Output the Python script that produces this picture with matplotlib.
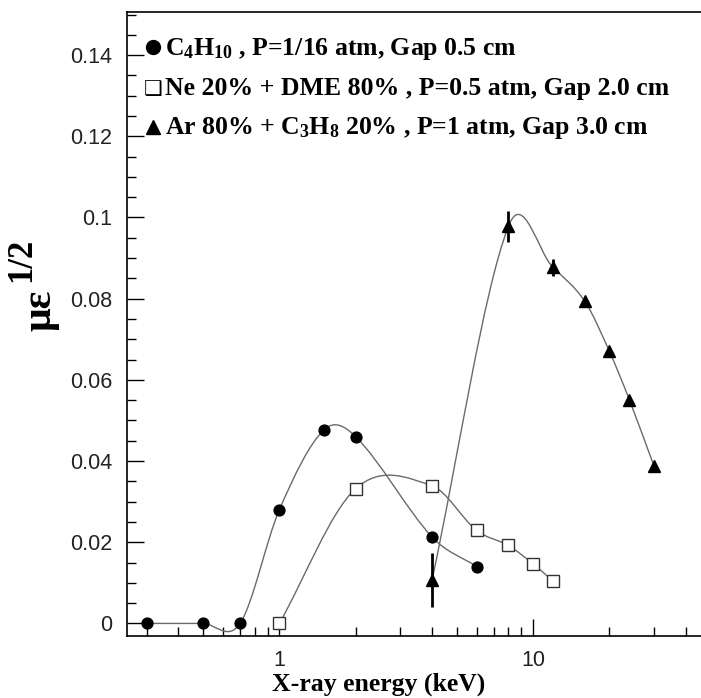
import numpy as np
import matplotlib
matplotlib.use('Agg')
import matplotlib.pyplot as plt
from matplotlib.path import Path
from matplotlib.patches import PathPatch
from matplotlib.ticker import MultipleLocator, FixedLocator, NullFormatter

plt.rcParams['mathtext.fontset'] = 'custom'
plt.rcParams['mathtext.rm'] = 'Liberation Serif:bold'
plt.rcParams['mathtext.it'] = 'Liberation Serif:bold'
plt.rcParams['mathtext.bf'] = 'Liberation Serif:bold'

# C4H10, P=1/16 atm, gap 0.5 cm
e_c4h10 = [0.3, 0.5, 0.7, 1.0, 1.5, 2.0, 4.0, 6.0]
m_c4h10 = [0.0, 0.0, 0.0, 0.028, 0.0477, 0.046, 0.0213, 0.014]

# Ne 20% + DME 80%, P=0.5 atm, gap 2.0 cm
e_nedme = [1.0, 2.0, 4.0, 6.0, 8.0, 10.0, 12.0]
m_nedme = [0.0, 0.0332, 0.0339, 0.0229, 0.0192, 0.0147, 0.0104]

# Ar 80% + C3H8 20%, P=1 atm, gap 3.0 cm
e_arc3h8 = [4.0, 8.0, 12.0, 16.0, 20.0, 24.0, 30.0]
m_arc3h8 = [0.0107, 0.0978, 0.0877, 0.0794, 0.0671, 0.0551, 0.0388]
err_arc3h8 = [0.0066, 0.0038, 0.0021, 0.0, 0.0, 0.0, 0.0]

yticks = [0, 0.02, 0.04, 0.06, 0.08, 0.1, 0.12, 0.14]
ytick_labels = ['0', '0.02', '0.04', '0.06', '0.08', '0.1', '0.12', '0.14']
xticks = [1, 10]
xtick_labels = ['1', '10']

LINE = '#6a6a6a'
SERIF = 'Liberation Serif'


def smooth_path(xs, ys):
    """Cardinal (Catmull-Rom) curve in log-x, built as cubic Bezier segments."""
    t = np.log10(xs)
    y = np.asarray(ys, float)
    n = len(t)
    m = np.empty(n)
    m[0] = (y[1] - y[0]) / (t[1] - t[0])
    m[-1] = (y[-1] - y[-2]) / (t[-1] - t[-2])
    m[1:-1] = (y[2:] - y[:-2]) / (t[2:] - t[:-2])
    verts = [(xs[0], y[0])]
    codes = [Path.MOVETO]
    for i in range(n - 1):
        h = t[i + 1] - t[i]
        c1 = (10 ** (t[i] + h / 3), y[i] + m[i] * h / 3)
        c2 = (10 ** (t[i + 1] - h / 3), y[i + 1] - m[i + 1] * h / 3)
        verts += [c1, c2, (xs[i + 1], y[i + 1])]
        codes += [Path.CURVE4] * 3
    return Path(verts, codes)


fig = plt.figure(figsize=(7.01, 6.98), dpi=100)
ax = fig.add_axes([0.1807, 0.0888, 0.8193, 0.8933])

for xs, ys in [(e_c4h10, m_c4h10), (e_nedme, m_nedme), (e_arc3h8, m_arc3h8)]:
    ax.add_patch(PathPatch(smooth_path(xs, ys), fc='none', ec=LINE, lw=1.0,
                           zorder=2))

ax.plot(e_c4h10, m_c4h10, 'o', ms=7.8, color='black', zorder=4)
ax.plot(e_nedme, m_nedme, 's', ms=8.5, mfc='white', mec='#333333', mew=1.0,
        zorder=4)
ax.errorbar(e_arc3h8, m_arc3h8, yerr=err_arc3h8, fmt='^', ms=8.5,
            color='black', ecolor='black', elinewidth=2.0, capsize=0,
            zorder=4)

ax.set_xscale('log')
ax.set_xlim(0.25, 46)
ax.set_ylim(-0.0031, 0.1505)

ax.set_yticks(yticks)
ax.set_yticklabels(ytick_labels)
ax.yaxis.set_minor_locator(MultipleLocator(0.005))
ax.set_xticks(xticks)
ax.set_xticklabels(xtick_labels)
ax.xaxis.set_minor_locator(FixedLocator(
    [0.3, 0.4, 0.5, 0.6, 0.7, 0.8, 0.9, 2, 3, 4, 5, 6, 7, 8, 9, 20, 30, 40]))
ax.xaxis.set_minor_formatter(NullFormatter())

ax.tick_params(which='major', direction='in', length=12, width=1.0,
               labelsize=15.5, colors='black')
ax.tick_params(which='minor', direction='in', length=6.5, width=1.0)
ax.tick_params(axis='y', which='major', pad=10.5)
ax.tick_params(axis='x', which='major', pad=10)
for lab in ax.get_xticklabels() + ax.get_yticklabels():
    lab.set_fontfamily('Liberation Sans')
    lab.set_color('#222222')

ax.spines['right'].set_visible(False)
for side in ['left', 'bottom', 'top']:
    ax.spines[side].set_linewidth(1.2)

# legend drawn as text rows
rows = [
    ('o', r'C$_{4}$H$_{10}$ , P=1/16 atm, Gap 0.5 cm'),
    ('sq', r'Ne 20% + DME 80% , P=0.5 atm, Gap 2.0 cm'),
    ('^', r'Ar 80% + C$_{3}$H$_{8}$ 20% , P=1 atm, Gap 3.0 cm'),
]
row_y = [0.932, 0.868, 0.805]
sym_x = 0.0458
for (mk, txt), yy in zip(rows, row_y):
    if mk == 'sq':
        ax.text(sym_x, yy, '\u2751', transform=ax.transAxes, ha='center',
                va='baseline', fontsize=15, family='DejaVu Sans')
    else:
        ax.plot([sym_x], [yy + 0.012], mk, ms=10,
                color='black', transform=ax.transAxes, clip_on=False)
    ax.text(0.0667, yy, txt, transform=ax.transAxes, ha='left',
            va='baseline', fontsize=18.5, family=SERIF, fontweight='bold')

# y label: mu-epsilon with a large 1/2 superscript
ax.text(-0.150, 0.523, 'με', transform=ax.transAxes, rotation=90,
        ha='center', va='center', fontsize=30, family=SERIF,
        fontweight='bold')
ax.text(-0.182, 0.604, '1/2', transform=ax.transAxes, rotation=90,
        ha='center', va='center', fontsize=25, family=SERIF,
        fontweight='bold')
ax.text(0.439, -0.0868, 'X-ray energy (keV)', transform=ax.transAxes,
        ha='center', va='baseline', fontsize=18.5, family=SERIF,
        fontweight='bold')

fig.savefig('out.png', dpi=100)
